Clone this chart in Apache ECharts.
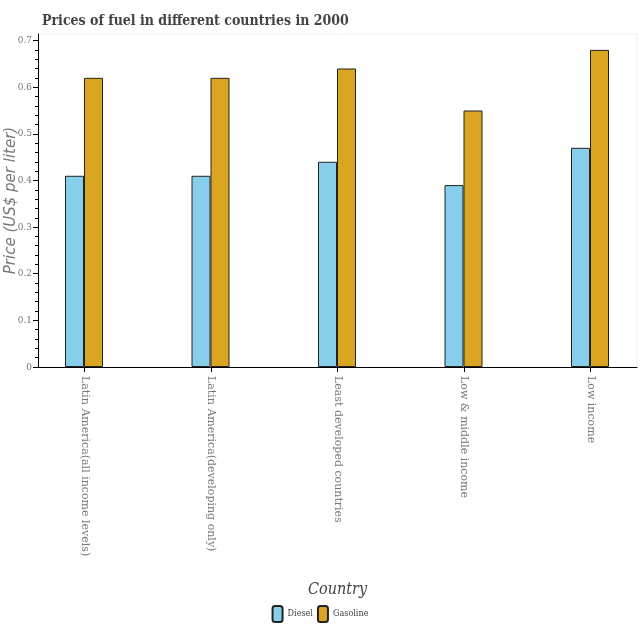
<!DOCTYPE html>
<html>
<head>
<meta charset="utf-8">
<script src="https://cdn.jsdelivr.net/npm/echarts@6/dist/echarts.min.js"></script>
<style>
  html, body { margin: 0; padding: 0; background: #fff; }
  #chart { width: 640px; height: 640px; }
</style>
</head>
<body>
<div id="chart"></div>
<script>
// 数据
const countries = [
  'Latin America(all income levels)',
  'Latin America(developing only)',
  'Least developed countries',
  'Low & middle income',
  'Low income'
]
const diesel = [0.41, 0.41, 0.44, 0.39, 0.47]
const gasoline = [0.62, 0.62, 0.64, 0.55, 0.68]
const yTicks = [0, 0.1, 0.2, 0.3, 0.4, 0.5, 0.6, 0.7]
const xTicks = [0, 1, 2, 3, 4]

const serif = '"DejaVu Serif Condensed", "DejaVu Serif", serif'
const yMax = 0.714

const chart = echarts.init(document.getElementById('chart'))
chart.setOption({
  animation: false,
  title: {
    text: 'Prices of fuel in different countries in 2000',
    left: 37,
    top: 9,
    textStyle: { fontFamily: serif, fontWeight: 'bold', fontSize: 14, color: '#444' }
  },
  legend: {
    bottom: 12,
    left: 'center',
    itemWidth: 10,
    itemHeight: 16,
    itemGap: 4,
    textStyle: { fontFamily: serif, fontSize: 9, color: '#444' },
    data: ['Diesel', 'Gasoline']
  },
  // grid 0: 柱子所在（坐标轴隐藏），grid 1: 可见的坐标轴
  grid: [
    { left: 20.75, width: 632.5, top: 34, bottom: 273, outerBoundsMode: 'none' },
    { left: 38, right: 3, top: 34, bottom: 273, outerBoundsMode: 'none', show: true, borderColor: '#eee', borderWidth: 1 }
  ],
  xAxis: [
    {
      type: 'category',
      gridIndex: 0,
      data: countries,
      show: false
    },
    {
      type: 'value',
      gridIndex: 1,
      min: -0.368,
      max: 4.368,
      name: 'Country',
      nameLocation: 'middle',
      nameGap: 215,
      nameMoveOverlap: false,
      nameTextStyle: { fontFamily: serif, fontStyle: 'italic', fontSize: 16, color: '#444' },
      axisLine: { show: true, onZero: false, lineStyle: { color: '#000' } },
      axisTick: { show: true, length: 5, customValues: xTicks, lineStyle: { color: '#000' } },
      axisLabel: {
        customValues: xTicks,
        rotate: -90,
        margin: 9,
        fontFamily: '"DejaVu Serif", serif',
        fontSize: 11,
        color: '#777',
        formatter: v => countries[Math.round(v)]
      },
      splitLine: { show: false }
    }
  ],
  yAxis: [
    {
      type: 'value',
      gridIndex: 0,
      min: 0,
      max: yMax,
      show: false
    },
    {
      type: 'value',
      gridIndex: 1,
      min: 0,
      max: yMax,
      interval: 0.1,
      name: 'Price (US$ per liter)',
      nameLocation: 'middle',
      nameGap: 19,
      nameMoveOverlap: false,
      nameTextStyle: { fontFamily: '"DejaVu Sans", sans-serif', fontStyle: 'italic', fontSize: 15, color: '#777' },
      axisLine: { show: true, onZero: false, lineStyle: { color: '#000' } },
      axisTick: { show: true, length: 5, customValues: yTicks, lineStyle: { color: '#000' } },
      minorTick: { show: true, splitNumber: 5, length: 3, lineStyle: { color: '#000' } },
      axisLabel: {
        customValues: yTicks,
        fontFamily: serif, fontSize: 10, color: '#777', margin: 6,
        formatter: v => (v === 0 ? '0' : v.toFixed(1))
      },
      splitLine: { show: false }
    }
  ],
  series: [
    {
      name: 'Diesel',
      type: 'bar',
      xAxisIndex: 0,
      yAxisIndex: 0,
      barWidth: 19,
      barGap: '0%',
      data: diesel,
      itemStyle: { color: '#87CEEB', borderColor: '#222', borderWidth: 1 }
    },
    {
      name: 'Gasoline',
      type: 'bar',
      xAxisIndex: 0,
      yAxisIndex: 0,
      barWidth: 19,
      barGap: '0%',
      data: gasoline,
      itemStyle: { color: '#DAA520', borderColor: '#222', borderWidth: 1 }
    }
  ]
})
</script>
</body>
</html>
